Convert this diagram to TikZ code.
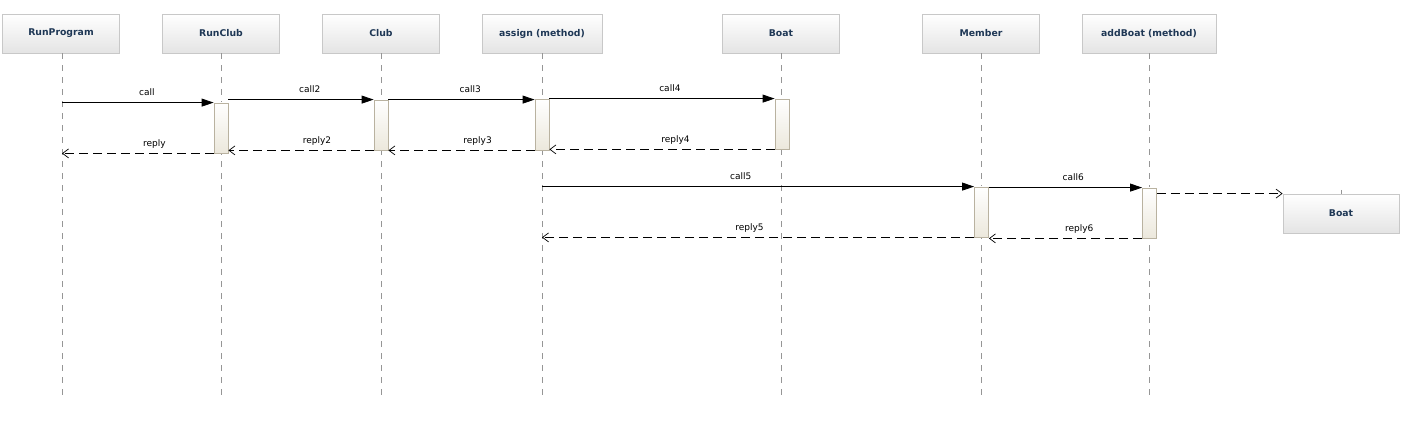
\documentclass[tikz,border=0pt]{standalone}
\usepackage{fontspec}
\setmainfont{DejaVu Sans}
\usetikzlibrary{arrows.meta,calc}
\definecolor{hdrtext}{RGB}{30,55,85}
\definecolor{hdrborder}{RGB}{200,200,200}
\definecolor{hdrbottom}{RGB}{228,228,228}
\definecolor{actborder}{RGB}{185,178,160}
\definecolor{actbottom}{RGB}{236,232,220}
\definecolor{lifeline}{RGB}{150,150,150}
\tikzset{
  header/.style={draw=hdrborder, line width=0.8pt, top color=white, bottom color=hdrbottom,
    minimum height=39pt, inner sep=0pt, text=hdrtext, font=\fontsize{9.3}{11}\selectfont\bfseries},
  actbox/.style={draw=actborder, line width=0.8pt, top color=white, bottom color=actbottom,
    minimum width=14pt, inner sep=0pt},
  lifeln/.style={draw=lifeline, line width=0.6pt, dash pattern=on 6pt off 6pt},
  callmsg/.style={draw=black, line width=0.8pt, -{Triangle[length=12pt,width=8pt]}},
  replymsg/.style={draw=black, line width=0.8pt, dash pattern=on 9pt off 5pt, -{Straight Barb[length=6pt,width=9pt,line width=0.7pt]}},
  lbl/.style={font=\fontsize{9}{10}\selectfont, inner sep=0pt, anchor=base, yshift=7pt}
}
\begin{document}
\begin{tikzpicture}[x=1pt,y=-1pt]
\useasboundingbox (0,0) rectangle (1419,435);
% headers
\node[header, minimum width=117pt] (h1) at (61,33.5) {RunProgram};
\node[header, minimum width=117pt] (h2) at (221,33.5) {RunClub};
\node[header, minimum width=117pt] (h3) at (381,33.5) {Club};
\node[header, minimum width=120pt] (h4) at (542,33.5) {assign (method)};
\node[header, minimum width=117pt] (h5) at (781,33.5) {Boat};
\node[header, minimum width=117pt] (h6) at (981,33.5) {Member};
\node[header, minimum width=134pt] (h7) at (1149,33.5) {addBoat (method)};
% lifelines
\coordinate (e1) at (62,400);
\coordinate (e2) at (221,400);
\coordinate (e3) at (381,400);
\coordinate (e4) at (542,400);
\coordinate (e5) at (781,400);
\coordinate (e6) at (981,400);
\coordinate (e7) at (1149,400);
\draw[lifeln] (h1.south -| e1) -- (e1);
\draw[lifeln] (h2.south) -- (e2);
\draw[lifeln] (h3.south) -- (e3);
\draw[lifeln] (h4.south) -- (e4);
\draw[lifeln] (h5.south) -- (e5);
\draw[lifeln] (h6.south) -- (e6);
\draw[lifeln] (h7.south) -- (e7);
% activations
\node[actbox, minimum height=50pt] (a1) at (221,128) {};
\node[actbox, minimum height=50pt] (a2) at (381,125) {};
\node[actbox, minimum height=51pt] (a3) at (542,124.5) {};
\node[actbox, minimum height=50pt] (a4) at (782,124) {};
\node[actbox, minimum height=50pt] (a5) at (981.5,212) {};
\node[actbox, minimum height=50pt] (a6) at (1149.5,213) {};
% created Boat
\node[header, minimum width=116pt] (b2) at (1341,213.5) {Boat};
\coordinate (b2top) at (1341,190);
\draw[draw=lifeline, line width=0.6pt] (b2top) -- (b2.north);
% messages
\draw[callmsg] (e1 |- a1.north) -- node[lbl, pos=.56] {call} (a1.north west);
\draw[callmsg] (a1.east |- a2.north) -- node[lbl, pos=.56] {call2} (a2.north west);
\draw[callmsg] (a2.north east) -- node[lbl, pos=.56] {call3} (a3.west |- a2.north);
\draw[callmsg] (a3.north east) -- node[lbl, pos=.535] {call4} (a4.north west);
\draw[replymsg] (a4.south west) -- node[lbl, pos=.44] {reply4} (a3.east |- a4.south);
\draw[replymsg] (a3.south west) -- node[lbl, pos=.39] {reply3} (a2.south east);
\draw[replymsg] (a2.south west) -- node[lbl, pos=.39] {reply2} (a1.east |- a2.south);
\draw[replymsg] (a1.south west) -- node[lbl, pos=.39] {reply} (e1 |- a1.south);
\draw[callmsg] (e4 |- a5.north) -- node[lbl, pos=.46] {call5} (a5.north west);
\draw[callmsg] (a5.east |- a6.north) -- node[lbl, pos=.55] {call6} (a6.north west);
\draw[replymsg] (a6.east |- b2.north) -- (b2.north west);
\draw[replymsg] (a6.south west) -- node[lbl, pos=.41] {reply6} (a5.east |- a6.south);
\draw[replymsg] (a5.south west) -- node[lbl, pos=.52] {reply5} (e4 |- a5.south);
\end{tikzpicture}
\end{document}
